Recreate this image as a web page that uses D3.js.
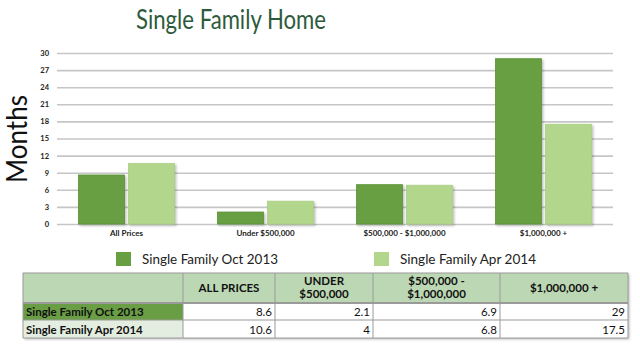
<!DOCTYPE html>
<html>
<head>
<meta charset="utf-8">
<script src="https://cdn.jsdelivr.net/npm/d3@7"></script>
<style>
  html, body { margin: 0; padding: 0; background: #fff; }
  svg { display: block; }
</style>
</head>
<body>
<svg id="chart" width="640" height="347"></svg>
<script>
// Months of inventory by price range
const categories = ["All Prices", "Under $500,000", "$500,000 - $1,000,000", "$1,000,000 +"];
const seriesNames = ["Single Family Oct 2013", "Single Family Apr 2014"];
const oct2013 = [8.6, 2.1, 6.9, 29];
const apr2014 = [10.6, 4, 6.8, 17.5];
const yTicks = [0, 3, 6, 9, 12, 15, 18, 21, 24, 27, 30];
const tableHeaders = [["ALL PRICES"], ["UNDER", "$500,000"], ["$500,000 -", "$1,000,000"], ["$1,000,000 +"]];
const tableLabels = ["Single Family Oct 2013", "Single Family Apr 2014"];

const colors = ["#689f43", "#b2d68c"];
const font = "'Lato', 'Open Sans', sans-serif";

const svg = d3.select("#chart");

const defs = svg.append("defs");
const sh = defs.append("filter").attr("id", "shadow")
  .attr("x", "-10%").attr("y", "-10%").attr("width", "130%").attr("height", "130%");
sh.append("feDropShadow").attr("dx", 1.5).attr("dy", 1.5).attr("stdDeviation", 1.2)
  .attr("flood-color", "#000").attr("flood-opacity", 0.25);

// Title
svg.append("text")
  .attr("x", 231).attr("y", 29)
  .attr("text-anchor", "middle")
  .attr("font-family", font)
  .attr("font-size", 26)
  .attr("textLength", 190)
  .attr("lengthAdjust", "spacingAndGlyphs")
  .attr("fill", "#2e5a3c")
  .text("Single Family Home");

// Axis title
svg.append("text")
  .attr("transform", "translate(27,139) rotate(-90)")
  .attr("text-anchor", "middle")
  .attr("font-family", font)
  .attr("font-size", 28)
  .attr("textLength", 88)
  .attr("lengthAdjust", "spacingAndGlyphs")
  .attr("fill", "#111")
  .text("Months");

// Scales
const x0 = d3.scaleBand().domain(categories).range([57, 613]);
const x1 = d3.scaleBand().domain(seriesNames).range([0, 96]).paddingInner(0.08);
const y = d3.scaleLinear().domain([0, 30]).range([224, 53]);

// Gridlines + y labels
const yAxis = svg.append("g")
  .attr("transform", "translate(57,0)")
  .call(d3.axisLeft(y).tickValues(yTicks).tickSize(-556).tickPadding(8));
yAxis.select(".domain").remove();
yAxis.selectAll(".tick line").attr("stroke", "#c6c6c6").attr("stroke-width", 1.6);
yAxis.selectAll(".tick text")
  .attr("font-family", font).attr("font-size", 7.5).attr("font-weight", "bold").attr("fill", "#222");

// Bars
const series = [oct2013, apr2014];
const groups = svg.append("g").selectAll("g")
  .data(categories)
  .join("g")
  .attr("transform", d => `translate(${x0(d) + (x0.bandwidth() - 96) / 2},0)`);

groups.selectAll("rect")
  .data((d, i) => seriesNames.map((s, j) => ({ s, v: series[j][i], j })))
  .join("rect")
  .attr("x", d => x1(d.s))
  .attr("width", x1.bandwidth())
  .attr("y", d => y(d.v))
  .attr("height", d => y(0) - y(d.v))
  .attr("fill", d => colors[d.j])
  .attr("stroke", d => d.j === 0 ? "#5b9238" : "#a8cf80")
  .attr("stroke-width", 0.8)
  .attr("filter", "url(#shadow)");

// Category labels
const xAxis = svg.append("g")
  .attr("transform", "translate(0,224)")
  .call(d3.axisBottom(x0).tickSize(0).tickPadding(6));
xAxis.select(".domain").remove();
xAxis.selectAll(".tick text")
  .attr("font-family", font).attr("font-size", 8).attr("font-weight", "bold").attr("fill", "#222");

// Legend
const legendX = [116, 374];
const legend = svg.append("g").selectAll("g")
  .data(seriesNames)
  .join("g")
  .attr("transform", (d, i) => `translate(${legendX[i]},252)`);
legend.append("rect")
  .attr("width", 15).attr("height", 14)
  .attr("fill", (d, i) => colors[i]);
legend.append("text")
  .attr("x", 26).attr("y", 12)
  .attr("font-family", font).attr("font-size", 14).attr("fill", "#222")
  .attr("textLength", 136)
  .attr("lengthAdjust", "spacingAndGlyphs")
  .text(d => d);

// Table
const colX = [23, 183, 275, 373, 500, 628];
const rowY = [273, 303, 320, 338];
const tbl = svg.append("g").attr("font-family", font).attr("font-weight", "bold");

tbl.append("rect")
  .attr("x", colX[0]).attr("y", rowY[0])
  .attr("width", colX[5] - colX[0]).attr("height", rowY[3] - rowY[0])
  .attr("fill", "#fff").attr("filter", "url(#shadow)");

// header row background
tbl.append("rect")
  .attr("x", colX[0]).attr("y", rowY[0])
  .attr("width", colX[5] - colX[0]).attr("height", rowY[1] - rowY[0])
  .attr("fill", "#bcd7b3");

// row label cells
const labelFill = ["#6a9e45", "#e4eee0"];
tableLabels.forEach((lab, r) => {
  tbl.append("rect")
    .attr("x", colX[0]).attr("y", rowY[r + 1])
    .attr("width", colX[1] - colX[0]).attr("height", rowY[r + 2] - rowY[r + 1])
    .attr("fill", labelFill[r]);
  tbl.append("text")
    .attr("x", colX[0] + 3).attr("y", rowY[r + 2] - 4.5)
    .attr("font-size", 11.5).attr("fill", "#111")
    .text(lab);
  series[r].forEach((v, c) => {
    tbl.append("text")
      .attr("x", colX[c + 2] - 3).attr("y", rowY[r + 2] - 4.5)
      .attr("text-anchor", "end")
      .attr("font-size", 11.5).attr("font-weight", "normal").attr("fill", "#111")
      .text(v);
  });
});

// header labels, one text per line
tableHeaders.forEach((lines, c) => {
  const cx = (colX[c + 1] + colX[c + 2]) / 2;
  const top = lines.length === 1 ? 292 : 285;
  lines.forEach((ln, k) => {
    tbl.append("text")
      .attr("x", cx).attr("y", top + k * 13)
      .attr("text-anchor", "middle")
      .attr("font-size", 11.5).attr("fill", "#111")
      .text(ln);
  });
});

// grid lines
const gridColor = "#9a9a9a";
colX.forEach(cx => {
  tbl.append("line").attr("x1", cx).attr("x2", cx).attr("y1", rowY[0]).attr("y2", rowY[3])
    .attr("stroke", gridColor).attr("stroke-width", 1);
});
rowY.forEach(ry => {
  tbl.append("line").attr("x1", colX[0]).attr("x2", colX[5]).attr("y1", ry).attr("y2", ry)
    .attr("stroke", gridColor).attr("stroke-width", ry === rowY[1] ? 2 : 1);
});
</script>
</body>
</html>
